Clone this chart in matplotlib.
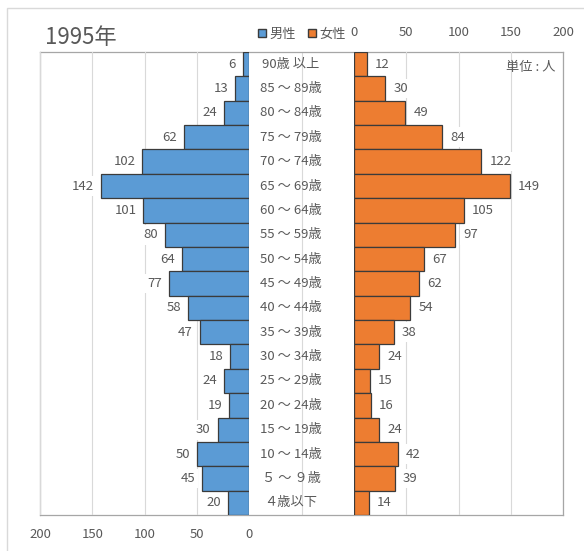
import matplotlib
matplotlib.use("Agg")
import matplotlib.pyplot as plt
from matplotlib.patches import Rectangle, Patch

plt.rcParams['font.family'] = ['Noto Sans CJK JP', 'DejaVu Sans']

ages = ["90歳 以上", "85 ～ 89歳", "80 ～ 84歳", "75 ～ 79歳", "70 ～ 74歳",
        "65 ～ 69歳", "60 ～ 64歳", "55 ～ 59歳", "50 ～ 54歳", "45 ～ 49歳",
        "40 ～ 44歳", "35 ～ 39歳", "30 ～ 34歳", "25 ～ 29歳", "20 ～ 24歳",
        "15 ～ 19歳", "10 ～ 14歳", "５ ～ ９歳", "４歳以下"]
male = [6, 13, 24, 62, 102, 142, 101, 80, 64, 77, 58, 47, 18, 24, 19, 30, 50, 45, 20]
female = [12, 30, 49, 84, 122, 149, 105, 97, 67, 62, 54, 38, 24, 15, 16, 24, 42, 39, 14]
ticks = [0, 50, 100, 150, 200]

blue = "#5B9BD5"
orange = "#ED7D31"
edge = "#3b3b3b"
grey = "#595959"
grid = "#d9d9d9"

W, H = 584, 551
fig = plt.figure(figsize=(W / 100, H / 100), dpi=100)

def box(x0, y0, x1, y1):
    # pixel coords (top-left origin) -> figure fraction rect
    return [x0 / W, 1 - y1 / H, (x1 - x0) / W, (y1 - y0) / H]

# outer light border
fig.patches.append(Rectangle((7 / W, -0.1), 1.2, 1 - 8 / H + 0.1, transform=fig.transFigure,
                             fill=False, edgecolor="#d9d9d9", linewidth=1))

top, bot = 52, 515

# background frame with centre line
bg = fig.add_axes(box(40, top, 563, bot))
bg.set_xlim(40, 563)
bg.set_ylim(0, 1)
bg.set_xticks([])
bg.set_yticks([])
for s in bg.spines.values():
    s.set_color("#a6a6a6")
    s.set_linewidth(0.9)
bg.axvline(302, color=grid, linewidth=0.8)

y = list(range(len(ages)))

axl = fig.add_axes(box(40, top, 249, bot))
axr = fig.add_axes(box(354, top, 563, bot))
for ax in (axl, axr):
    ax.patch.set_alpha(0)
    for s in ax.spines.values():
        s.set_visible(False)
    ax.set_ylim(len(ages) - 0.5, -0.5)
    ax.set_yticks([])
    ax.set_xticks(ticks)
    ax.xaxis.grid(True, color=grid, linewidth=0.8)
    ax.set_axisbelow(True)
    ax.tick_params(axis="x", length=0, colors=grey, labelsize=9.5, pad=9)

axl.set_xlim(200, 0)
axr.set_xlim(0, 200)
axr.xaxis.tick_top()

axl.barh(y, male, height=1.0, color=blue, edgecolor=edge, linewidth=0.9)
axr.barh(y, female, height=1.0, color=orange, edgecolor=edge, linewidth=0.9)

for i, v in enumerate(male):
    axl.annotate(str(v), (v, i), xytext=(-5, 0), textcoords="offset points",
                 ha="right", va="center", fontsize=9.5, color=grey,
                 bbox=dict(boxstyle="square,pad=0.25", facecolor="white", edgecolor="none"))
for i, v in enumerate(female):
    axr.annotate(str(v), (v, i), xytext=(6, 0), textcoords="offset points",
                 ha="left", va="center", fontsize=9.5, color=grey,
                 bbox=dict(boxstyle="square,pad=0.25", facecolor="white", edgecolor="none"))

# age labels in the centre column
row_h = (bot - top) / len(ages)
for i, lab in enumerate(ages):
    fig.text(291 / W, 1 - (top + row_h * (i + 0.5)) / H, lab, ha="center", va="center",
             fontsize=9.5, color=grey)

fig.text(45 / W, 1 - 38 / H, "1995年", fontsize=16, color=grey, ha="left", va="center")
fig.text(555 / W, 1 - 67 / H, "単位 : 人", fontsize=9.5, color=grey, ha="right", va="center")

handles = [Patch(facecolor=blue, edgecolor=edge, label="男性"),
           Patch(facecolor=orange, edgecolor=edge, label="女性")]
fig.legend(handles=handles, loc="center", bbox_to_anchor=(302 / W, 1 - 34 / H), ncol=2,
           frameon=False, fontsize=9.5, labelcolor=grey, handlelength=0.6, handleheight=0.6,
           handletextpad=0.3, columnspacing=0.9)

plt.savefig("out.png", dpi=100)
plt.close()
